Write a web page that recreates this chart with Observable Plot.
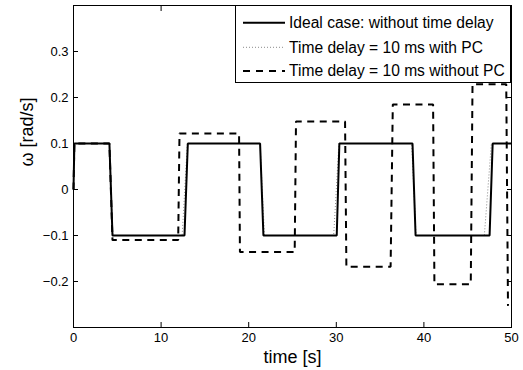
<!DOCTYPE html>
<html>
<head>
<meta charset="utf-8">
<script src="https://cdn.jsdelivr.net/npm/d3@7"></script>
<script src="https://cdn.jsdelivr.net/npm/@observablehq/plot@0.6"></script>
<style>
  html, body { margin: 0; padding: 0; background: white; }
  #chart { position: relative; width: 523px; height: 370px; }
</style>
</head>
<body>
<div id="chart"></div>
<script>
// ---- data ----
const xTicks = [0, 10, 20, 30, 40, 50];
const yTicks = [-0.2, -0.1, 0, 0.1, 0.2, 0.3];
const xLabel = "time [s]";
const yLabel = "ω [rad/s]";
const seriesNames = [
  "Ideal case: without time delay",
  "Time delay = 10 ms with PC",
  "Time delay = 10 ms without PC"
];

// Ideal case (solid)
const tIdeal = [0, 0.1, 4.1, 4.45, 12.67, 13.05, 21.3, 21.68, 30.05, 30.35, 38.7, 39.05, 47.5, 47.85, 50];
const wIdeal = [0, 0.1, 0.1, -0.1, -0.1, 0.1, 0.1, -0.1, -0.1, 0.1, 0.1, -0.1, -0.1, 0.1, 0.1];

// Time delay with PC (dotted)
const tPC = [0, 0.1, 4.1, 4.5, 12.4, 13.0, 21.3, 21.8, 29.7, 30.3, 38.6, 39.1, 46.9, 47.7, 50];
const wPC = [0, 0.1, 0.1, -0.1, -0.1, 0.1, 0.1, -0.1, -0.1, 0.1, 0.1, -0.1, -0.1, 0.1, 0.1];

// Time delay without PC (dashed)
const tNoPC = [0, 0.1, 4.1, 4.45, 11.95, 12.1, 18.9, 19.0, 25.25, 25.4, 31.0, 31.15, 36.2, 36.45, 41.05, 41.2, 45.35, 45.55, 49.4, 49.6];
const wNoPC = [0, 0.1, 0.1, -0.11, -0.11, 0.122, 0.122, -0.136, -0.136, 0.148, 0.148, -0.168, -0.168, 0.185, 0.185, -0.206, -0.206, 0.229, 0.229, -0.253];

const toRows = (ts, ws) => ts.map((t, i) => ({t, w: ws[i]}));
const ideal = toRows(tIdeal, wIdeal);
const withPC = toRows(tPC, wPC);
const withoutPC = toRows(tNoPC, wNoPC);

const font = "'Liberation Sans', Arial, Helvetica, sans-serif";
const fmtY = d => d3.format("~g")(d);

const plot = Plot.plot({
  width: 523,
  height: 370,
  marginLeft: 73,
  marginRight: 12,
  marginTop: 5,
  marginBottom: 43,
  style: {fontFamily: font, fontSize: "13px", background: "white", color: "black"},
  x: {domain: [0, 50]},
  y: {domain: [-0.3, 0.4]},
  marks: [
    Plot.line(withoutPC, {x: "t", y: "w", stroke: "black", strokeWidth: 2, strokeDasharray: "7,5.5", strokeLinecap: "butt", strokeLinejoin: "miter"}),
    Plot.line(withPC, {x: "t", y: "w", stroke: "#8a8a8a", strokeWidth: 1, strokeDasharray: "1,2", strokeLinecap: "butt"}),
    Plot.line(ideal, {x: "t", y: "w", stroke: "black", strokeWidth: 2, strokeLinecap: "butt", strokeLinejoin: "miter"}),
    Plot.axisX(xTicks, {anchor: "bottom", tickSize: -5, tickPadding: 10, label: null, fontSize: 13}),
    Plot.axisX(xTicks, {anchor: "top", tickSize: -5, tickFormat: () => "", label: null}),
    Plot.axisY(yTicks, {anchor: "left", tickSize: -5, tickPadding: 10, tickFormat: fmtY, label: null, fontSize: 13}),
    Plot.axisY(yTicks, {anchor: "right", tickSize: -5, tickFormat: () => "", label: null}),
    Plot.frame({stroke: "black", strokeWidth: 1}),
    Plot.text([xLabel], {text: d => d, frameAnchor: "bottom", dy: 35, fontSize: 18}),
    Plot.text([yLabel], {text: d => d, frameAnchor: "left", dx: -46, rotate: -90, fontSize: 18})
  ]
});

document.getElementById("chart").appendChild(plot);

// ---- legend (inside the plot, top right) ----
const svg = d3.select(plot);
const lg = svg.append("g").attr("font-family", font).attr("font-size", 15.6).attr("text-anchor", "start");
lg.append("rect").attr("x", 235.5).attr("y", 5.5).attr("width", 275).attr("height", 77)
  .attr("fill", "white").attr("stroke", "black").attr("stroke-width", 1);
const legendStyles = [
  {stroke: "black", width: 2, dash: null},
  {stroke: "#8a8a8a", width: 1, dash: "1,2"},
  {stroke: "black", width: 2, dash: "7,6"}
];
const rowY = [22.7, 47.3, 71];
seriesNames.forEach((name, i) => {
  const s = legendStyles[i];
  lg.append("line").attr("x1", 243).attr("x2", 285).attr("y1", rowY[i]).attr("y2", rowY[i])
    .attr("stroke", s.stroke).attr("stroke-width", s.width).attr("stroke-dasharray", s.dash);
  lg.append("text").attr("x", 289).attr("y", rowY[i]).attr("dy", "0.35em")
    .attr("text-anchor", "start").attr("fill", "black").text(name);
});
</script>
</body>
</html>
